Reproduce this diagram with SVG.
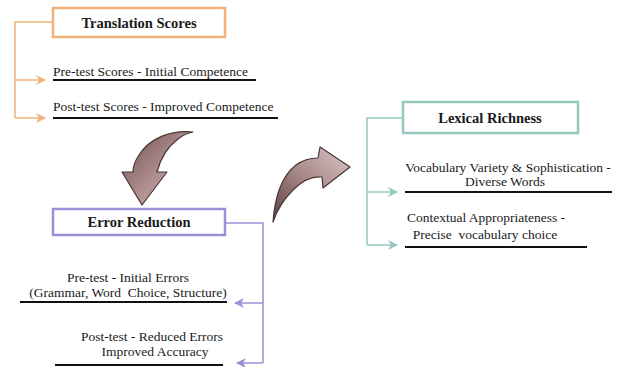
<svg xmlns="http://www.w3.org/2000/svg" width="619" height="367" viewBox="0 0 619 367">
<defs>
<style>
.title{font-family:"Liberation Serif","Times New Roman",serif;font-weight:bold;font-size:14.5px;fill:#1a1a1a;text-anchor:middle}
.body{font-family:"Liberation Serif","Times New Roman",serif;font-size:13.5px;fill:#1a1a1a;white-space:pre}
.ul{stroke:#111;stroke-width:2}
.or{stroke:#f0b27a;fill:none}
.pu{stroke:#9a90d8;fill:none}
.te{stroke:#96c8c0;fill:none}
.big{stroke:#4a3434;stroke-width:1.2;stroke-linejoin:round}
</style>
<marker id="ao" markerWidth="10" markerHeight="10" refX="9" refY="5" orient="auto" markerUnits="userSpaceOnUse"><path d="M0,0 L10,5 L0,10 L3,5 Z" fill="#f0b27a"/></marker>
<marker id="ap" markerWidth="10" markerHeight="10" refX="9" refY="5" orient="auto" markerUnits="userSpaceOnUse"><path d="M0,0 L10,5 L0,10 L3,5 Z" fill="#9a90d8"/></marker>
<marker id="at" markerWidth="10" markerHeight="10" refX="9" refY="5" orient="auto" markerUnits="userSpaceOnUse"><path d="M0,0 L10,5 L0,10 L3,5 Z" fill="#96c8c0"/></marker>
<linearGradient id="g1" x1="0" y1="0" x2="1" y2="1">
<stop offset="0" stop-color="#6e4f4f"/><stop offset="0.55" stop-color="#b09090"/><stop offset="1" stop-color="#d8c4c4"/>
</linearGradient>
<linearGradient id="g2" x1="0" y1="1" x2="1" y2="0">
<stop offset="0" stop-color="#5e4242"/><stop offset="0.5" stop-color="#a88888"/><stop offset="1" stop-color="#dcc8c8"/>
</linearGradient>
</defs>
<rect width="619" height="367" fill="#ffffff"/>

<g id="connectors">
<path class="or" stroke-width="1.5" d="M53,22 H15 V118"/>
<path class="or" stroke-width="1.5" d="M15,80 H45" marker-end="url(#ao)"/>
<path class="or" stroke-width="1.5" d="M15,118 H45" marker-end="url(#ao)"/>
<path class="pu" stroke-width="1.5" d="M225,223 H263 V363"/>
<path class="pu" stroke-width="1.5" d="M263,303 H235" marker-end="url(#ap)"/>
<path class="pu" stroke-width="1.5" d="M263,363 H237" marker-end="url(#ap)"/>
<path class="te" stroke-width="1.5" d="M403,118 H367 V245"/>
<path class="te" stroke-width="1.5" d="M367,192 H397" marker-end="url(#at)"/>
<path class="te" stroke-width="1.5" d="M367,245 H397" marker-end="url(#at)"/>
<path id="curve1" class="big" fill="url(#g1)" d="M193,132 C170,130 150,138 139,155 C135,161 133,167 133,172 L122,172 L142,205 L167,172 L157,172 C160,160 166,148 178,139 C183,135 188,133 193,132 Z"/>
<path id="curve2" class="big" fill="url(#g2)" d="M273,222 C275,195 283,175 296,165 C304,159 311,158 318,158 L320,147 L350,167 L323,188 L322,177 C312,176 302,181 293,190 C283,200 277,210 273,222 Z"/>
</g>

<g id="translation-scores">
<rect x="53" y="8" width="172" height="29" fill="#fff" stroke="#f0b27a" stroke-width="2.5"/>
<text class="title" x="139" y="28">Translation Scores</text>
</g>
<g id="pre-test-scores">
<text class="body" x="53" y="76">Pre-test Scores - Initial Competence</text>
<line class="ul" x1="53" y1="80" x2="256" y2="80"/>
</g>
<g id="post-test-scores">
<text class="body" x="53" y="111">Post-test Scores - Improved Competence</text>
<line class="ul" x1="53" y1="118" x2="278" y2="118"/>
</g>

<g id="error-reduction">
<rect x="53" y="209" width="172" height="26" fill="#fff" stroke="#9a90d8" stroke-width="2.5"/>
<text class="title" x="139" y="227">Error Reduction</text>
</g>
<g id="pre-test-errors">
<text class="body" x="128" y="282" text-anchor="middle">Pre-test - Initial Errors</text>
<text class="body" x="128" y="297" text-anchor="middle" xml:space="preserve">(Grammar, Word  Choice, Structure)</text>
<line class="ul" x1="20" y1="302" x2="227" y2="302"/>
</g>
<g id="post-test-errors">
<text class="body" x="152" y="341" text-anchor="middle">Post-test - Reduced Errors</text>
<text class="body" x="155" y="356" text-anchor="middle">Improved Accuracy</text>
<line class="ul" x1="55" y1="365" x2="223" y2="365"/>
</g>

<g id="lexical-richness">
<rect x="403" y="102" width="175" height="31" fill="#fff" stroke="#96c8c0" stroke-width="2.5"/>
<text class="title" x="490" y="123">Lexical Richness</text>
</g>
<g id="vocabulary-variety">
<text class="body" x="508" y="172" text-anchor="middle">Vocabulary Variety &amp; Sophistication -</text>
<text class="body" x="505" y="186" text-anchor="middle">Diverse Words</text>
<line class="ul" x1="405" y1="192" x2="612" y2="192"/>
</g>
<g id="contextual-appropriateness">
<text class="body" x="486" y="222" text-anchor="middle">Contextual Appropriateness -</text>
<text class="body" x="485" y="239" text-anchor="middle" xml:space="preserve">Precise  vocabulary choice</text>
<line class="ul" x1="405" y1="247" x2="587" y2="247"/>
</g>
</svg>
